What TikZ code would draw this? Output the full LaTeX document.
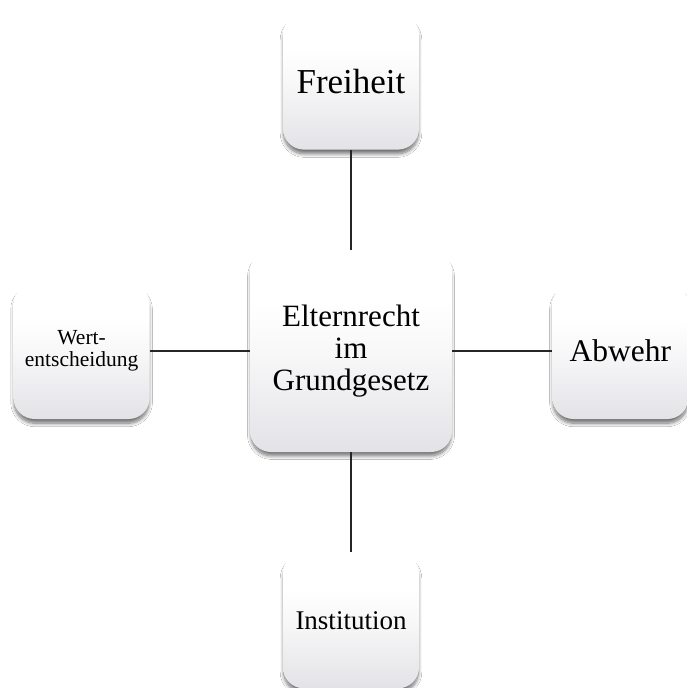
\documentclass[tikz,border=0pt]{standalone}
\usepackage{fontspec}
\setmainfont{Liberation Serif}
\usetikzlibrary{positioning,shadows.blur}
\newcommand{\boxSize}[0]{136pt}
\newcommand{\mainSize}[0]{202pt}
\newcommand{\boxGap}[0]{100pt}
\newcommand{\fs}[1]{\fontsize{#1}{1.04\dimexpr#1\relax}\selectfont}
\definecolor{boxbottom}{HTML}{E3E3E7}
\definecolor{boxmid}{HTML}{F8F8F9}
\pgfdeclareverticalshading{boxshade}{100bp}{color(0bp)=(boxbottom); color(25bp)=(boxbottom);
  color(50bp)=(boxmid); color(62bp)=(white); color(100bp)=(white)}

\begin{document}
\begin{tikzpicture}[x=1pt, y=1pt]
  \tikzset{
    conceptbox/.style={rounded corners=21pt, shading=boxshade,
      minimum width=\boxSize, minimum height=\boxSize, align=center, inner sep=2pt,
      blur shadow={shadow xshift=0pt, shadow yshift=-5pt, shadow blur steps=10,
        shadow blur radius=3.5pt, shadow opacity=55, shadow scale=0.99}},
    link/.style={line width=1.7pt, black!85}
  }
  \fill[white] (0,0) rectangle (687,-688);
  \useasboundingbox (0,0) rectangle (687,-688);
  \node[conceptbox, minimum width=\mainSize, minimum height=\mainSize, font=\fs{31pt}]
    (recht) at (351,-351) {Elternrecht\\im\\Grundgesetz};
  \node[conceptbox, above=\boxGap of recht, font=\fs{35pt}] (freiheit) {Freiheit};
  \node[conceptbox, below=\boxGap of recht, font=\fs{27pt}] (institution) {Institution};
  \node[conceptbox, left=\boxGap of recht, font=\fs{21.5pt}] (wert) {Wert-\\entscheidung};
  \node[conceptbox, right=\boxGap of recht, font=\fs{31.5pt}] (abwehr) {Abwehr};
  \draw[link] (freiheit) -- (recht);
  \draw[link] (institution) -- (recht);
  \draw[link] (wert) -- (recht);
  \draw[link] (abwehr) -- (recht);
\end{tikzpicture}
\end{document}
